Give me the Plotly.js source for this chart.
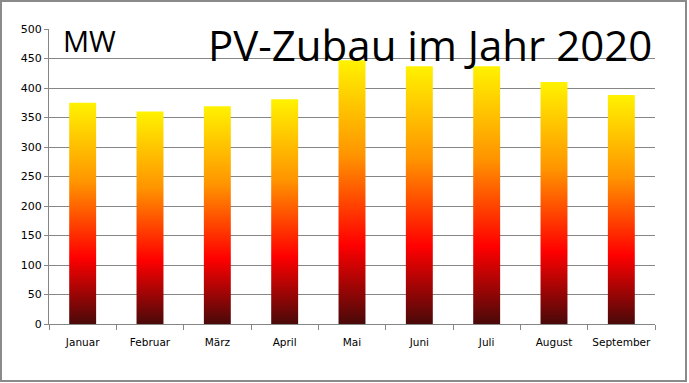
<!DOCTYPE html>
<html>
<head>
<meta charset="utf-8">
<script src="https://cdn.plot.ly/plotly-3.0.1.min.js"></script>
<style>
  html, body { margin: 0; padding: 0; background: #fff; }
  #frame { width: 683px; height: 378px; border: 2px solid #8a8a8a; }
  #chart { width: 683px; height: 378px; }
</style>
</head>
<body>
<div id="frame"><div id="chart"></div></div>
<script>
const months = ["Januar", "Februar", "März", "April", "Mai", "Juni", "Juli", "August", "September"];
const zubauMW = [375, 360, 369, 381, 447, 437, 437, 410, 388];
const yTicks = [0, 50, 100, 150, 200, 250, 300, 350, 400, 450, 500];
const chartTitle = "PV-Zubau im Jahr 2020";
const unitLabel = "MW";

const trace = {
  type: "bar",
  x: months,
  y: zubauMW,
  marker: { color: "#ff8000", line: { width: 0 } },
  hoverinfo: "x+y"
};

const layout = {
  width: 683,
  height: 378,
  margin: { l: 47, r: 30, t: 27, b: 56 },
  paper_bgcolor: "#ffffff",
  plot_bgcolor: "#ffffff",
  bargap: 0.6,
  showlegend: false,
  font: { family: "DejaVu Sans, Verdana, sans-serif", color: "#000000" },
  xaxis: {
    type: "category",
    tickson: "boundaries",
    ticks: "outside",
    ticklen: 5,
    tickcolor: "#868686",
    tickangle: 0,
    ticklabelstandoff: 8,
    showline: true,
    linecolor: "#868686",
    linewidth: 1,
    showgrid: false,
    tickfont: { size: 10.5, color: "#000000" },
    fixedrange: true
  },
  yaxis: {
    range: [0, 500],
    tickvals: yTicks,
    ticktext: yTicks.map(String),
    ticks: "outside",
    ticklen: 4,
    tickcolor: "#868686",
    showline: true,
    linecolor: "#868686",
    linewidth: 1,
    showgrid: true,
    gridcolor: "#868686",
    gridwidth: 1,
    zeroline: false,
    tickfont: { size: 11, color: "#000000" },
    fixedrange: true
  },
  annotations: [{
    text: chartTitle,
    xref: "paper", yref: "paper",
    x: 1, y: 1,
    xanchor: "right", yanchor: "top",
    xshift: -1, yshift: 15,
    showarrow: false,
    font: { family: "Open Sans, Noto Sans, sans-serif", size: 42, color: "#000000" }
  }, {
    text: unitLabel,
    xref: "paper", yref: "paper",
    x: 0, y: 1,
    xanchor: "left", yanchor: "top",
    xshift: 12, yshift: 10,
    showarrow: false,
    font: { family: "Open Sans, Noto Sans, sans-serif", size: 29, color: "#000000" }
  }]
};

function applyGradient(gd) {
  const svg = gd.querySelector("svg.main-svg");
  if (!svg) return;
  let defs = svg.querySelector("defs");
  if (!defs) { defs = document.createElementNS("http://www.w3.org/2000/svg", "defs"); svg.insertBefore(defs, svg.firstChild); }
  if (!svg.querySelector("#barGrad")) {
    const ns = "http://www.w3.org/2000/svg";
    const lg = document.createElementNS(ns, "linearGradient");
    lg.setAttribute("id", "barGrad");
    lg.setAttribute("x1", "0"); lg.setAttribute("y1", "0");
    lg.setAttribute("x2", "0"); lg.setAttribute("y2", "1");
    [["0", "#fff200"], ["0.36", "#ff9400"], ["0.70", "#ff0000"], ["1", "#4a0909"]].forEach(([o, c]) => {
      const s = document.createElementNS(ns, "stop");
      s.setAttribute("offset", o); s.setAttribute("stop-color", c);
      lg.appendChild(s);
    });
    defs.appendChild(lg);
  }
  gd.querySelectorAll(".bars .point path").forEach(p => {
    p.style.fill = "url(#barGrad)";
    p.style.fillOpacity = "1";
  });
}

const gd = document.getElementById("chart");
Plotly.newPlot(gd, [trace], layout, { displayModeBar: false, staticPlot: true }).then(() => {
  applyGradient(gd);
  gd.on("plotly_afterplot", () => applyGradient(gd));
});
</script>
</body>
</html>
